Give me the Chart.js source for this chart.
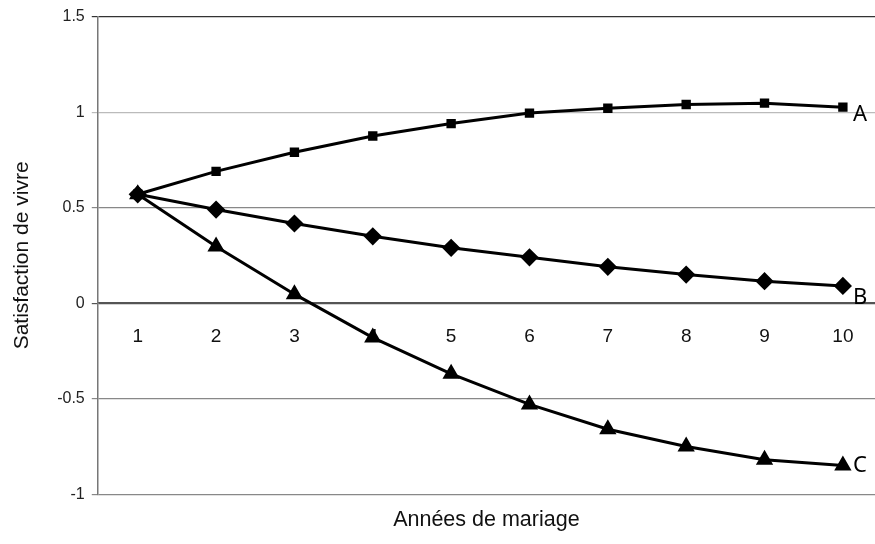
<!DOCTYPE html>
<html>
<head>
<meta charset="utf-8">
<script src="https://cdn.jsdelivr.net/npm/chart.js@4/dist/chart.umd.min.js"></script>
<style>
  html, body { margin: 0; padding: 0; background: #fff; overflow: hidden; }
  #wrap { width: 875px; height: 544px; position: relative; }
  #c { display: block; }
</style>
</head>
<body>
<div id="wrap"><canvas id="c"></canvas></div>
<script>
const years = [1, 2, 3, 4, 5, 6, 7, 8, 9, 10];
const seriesNames = ['A', 'B', 'C'];
const valuesA = [0.57, 0.69, 0.79, 0.875, 0.94, 0.995, 1.02, 1.04, 1.047, 1.026];
const valuesB = [0.57, 0.49, 0.417, 0.35, 0.29, 0.24, 0.19, 0.15, 0.115, 0.09];
const valuesC = [0.57, 0.297, 0.047, -0.18, -0.37, -0.53, -0.66, -0.75, -0.82, -0.85];
const yTicks = [-1, -0.5, 0, 0.5, 1, 1.5];
const xTitle = 'Années de mariage';
const yTitle = 'Satisfaction de vivre';

const toPts = vals => vals.map((v, i) => ({ x: years[i], y: v }));

const labelOffsets = [8, 12, 0];
const endLabels = {
  id: 'endLabels',
  afterDatasetsDraw(chart) {
    const ctx = chart.ctx;
    ctx.save();
    ctx.font = '22px "Noto Sans"';
    ctx.fillStyle = '#000';
    ctx.textBaseline = 'middle';
    ctx.textAlign = 'left';
    chart.data.datasets.forEach((ds, i) => {
      const meta = chart.getDatasetMeta(i);
      const p = meta.data[meta.data.length - 1];
      ctx.fillText(seriesNames[i], p.x + 10, p.y + labelOffsets[i]);
    });
    ctx.restore();
  }
};

const common = {
  borderColor: '#000',
  backgroundColor: '#000',
  pointBackgroundColor: '#000',
  pointBorderColor: '#000',
  borderWidth: 3,
  tension: 0,
  fill: false,
  clip: false,
  xAxisID: 'x',
  yAxisID: 'y'
};

const FONT = '"Liberation Sans", Arial, sans-serif';

new Chart(document.getElementById('c'), {
  type: 'line',
  data: {
    datasets: [
      Object.assign({ label: seriesNames[0], data: toPts(valuesA), pointStyle: 'rect', pointRadius: 4.5 }, common),
      Object.assign({ label: seriesNames[1], data: toPts(valuesB), pointStyle: 'rectRot', pointRadius: 7 }, common),
      Object.assign({ label: seriesNames[2], data: toPts(valuesC), pointStyle: 'triangle', pointRadius: 7 }, common)
    ]
  },
  options: {
    responsive: true,
    maintainAspectRatio: false,
    animation: false,
    devicePixelRatio: 1,
    layout: { autoPadding: false, padding: { top: 12, left: 10, right: 0, bottom: 11 } },
    plugins: {
      legend: { display: false },
      tooltip: { enabled: false },
      title: { display: false }
    },
    scales: {
      x: {
        type: 'linear',
        position: { y: 0 },
        min: 0.49,
        max: 10.41,
        afterBuildTicks: axis => { axis.ticks = years.map(v => ({ value: v })); },
        afterFit: axis => { axis.paddingLeft = 0; axis.paddingRight = 0; },
        ticks: {
          color: '#111',
          font: { family: FONT, size: 19 },
          padding: 22,
          maxRotation: 0,
          autoSkip: false
        },
        grid: { display: false, drawTicks: false },
        border: { display: true, color: '#555', width: 1.5 }
      },
      x2: {
        type: 'linear',
        position: 'bottom',
        min: 0,
        max: 1,
        ticks: { display: false },
        grid: { display: false, drawTicks: false },
        border: { display: false },
        afterFit: axis => { axis.paddingLeft = 0; axis.paddingRight = 0; },
        title: {
          display: true,
          text: xTitle,
          color: '#111',
          font: { family: FONT, size: 21.5 },
          padding: { top: 13, bottom: 0 }
        }
      },
      y: {
        min: -1,
        max: 1.5,
        afterBuildTicks: axis => { axis.ticks = yTicks.map(v => ({ value: v })); },
        ticks: {
          color: '#222',
          font: { family: FONT, size: 16 },
          padding: 7,
          callback: v => String(v)
        },
        grid: {
          drawTicks: true,
          tickLength: 6,
          color: ctx => {
            const v = ctx.tick ? ctx.tick.value : null;
            if (v === 1.5) return '#333';
            if (v === 1) return '#bbb';
            if (v === 0) return '#555';
            return '#888';
          },
          lineWidth: 1.2
        },
        border: { display: true, color: '#777', width: 1.5 },
        title: {
          display: true,
          text: yTitle,
          color: '#111',
          font: { family: FONT, size: 21 },
          padding: { top: 0, bottom: 15 }
        }
      }
    }
  },
  plugins: [endLabels]
});
</script>
</body>
</html>
